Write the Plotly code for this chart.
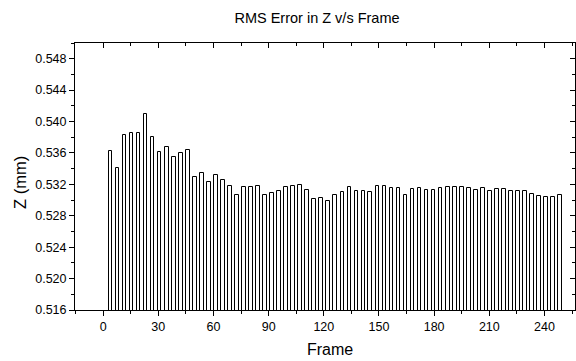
import plotly.graph_objects as go

# ---- data ----
frames = [4.0, 7.8, 11.6, 15.5, 19.3, 23.1, 26.9, 30.7, 34.6, 38.4,
          42.2, 46.0, 49.8, 53.7, 57.5, 61.3, 65.1, 68.9, 72.8, 76.6,
          80.4, 84.2, 88.0, 91.9, 95.7, 99.5, 103.3, 107.1, 111.0, 114.8,
          118.6, 122.4, 126.2, 130.1, 133.9, 137.7, 141.5, 145.3, 149.2, 153.0,
          156.8, 160.6, 164.4, 168.3, 172.1, 175.9, 179.7, 183.5, 187.4, 191.2,
          195.0, 198.8, 202.6, 206.5, 210.3, 214.1, 217.9, 221.7, 225.6, 229.4,
          233.2, 237.0, 240.8, 244.7, 248.5]

rms_z = [0.5362, 0.5341, 0.5383, 0.5385, 0.5385, 0.5410, 0.5380, 0.5361, 0.5367, 0.5355,
         0.5360, 0.5364, 0.5330, 0.5335, 0.5323, 0.5332, 0.5326, 0.5318, 0.5307, 0.5317,
         0.5316, 0.5318, 0.5306, 0.5309, 0.5311, 0.5316, 0.5318, 0.5319, 0.5313, 0.5301,
         0.5303, 0.5299, 0.5307, 0.5310, 0.5316, 0.5312, 0.5312, 0.5310, 0.5318, 0.5318,
         0.5315, 0.5315, 0.5307, 0.5314, 0.5315, 0.5313, 0.5313, 0.5315, 0.5316, 0.5317,
         0.5316, 0.5315, 0.5313, 0.5315, 0.5312, 0.5314, 0.5314, 0.5312, 0.5312, 0.5312,
         0.5308, 0.5305, 0.5304, 0.5304, 0.5307]

x_ticks = [0, 30, 60, 90, 120, 150, 180, 210, 240]
x_minor = [-15, 15, 45, 75, 105, 135, 165, 195, 225, 255]
y_ticks = [0.516, 0.520, 0.524, 0.528, 0.532, 0.536, 0.540, 0.544, 0.548]
y_minor = [0.518, 0.522, 0.526, 0.530, 0.534, 0.538, 0.542, 0.546]

title_text = "RMS Error in Z v/s Frame"
x_title = "Frame"
y_title = "Z (mm)"

x_range = [-15.3, 256.6]
y_range = [0.516, 0.550]

FONT = "Liberation Sans, Arial, sans-serif"

fig = go.Figure()
fig.add_trace(go.Bar(
    x=frames, y=rms_z, width=2.0,
    marker=dict(color="white", line=dict(color="black", width=1)),
    showlegend=False, hoverinfo="skip",
))
# empty helper traces so the mirrored (inward) tick axes are drawn
fig.add_trace(go.Scatter(x=[], y=[], xaxis="x2", yaxis="y", showlegend=False))
fig.add_trace(go.Scatter(x=[], y=[], xaxis="x", yaxis="y2", showlegend=False))

axis_font = dict(family=FONT, size=12.5, color="black")

fig.update_layout(
    width=576, height=361,
    margin=dict(l=75, r=1, t=43, b=51),
    paper_bgcolor="white", plot_bgcolor="white",
    font=dict(family=FONT, color="black"),
    bargap=0,
    xaxis=dict(
        range=x_range, tickmode="array", tickvals=x_ticks,
        ticktext=[str(v) for v in x_ticks],
        ticks="outside", ticklen=5, tickwidth=1, tickcolor="black",
        minor=dict(tickmode="array", tickvals=x_minor,
                   ticks="outside", ticklen=3, tickcolor="black", tickwidth=1),
        showline=True, linecolor="black", linewidth=1, mirror=True,
        showgrid=False, zeroline=False, tickfont=axis_font,
    ),
    xaxis2=dict(
        range=x_range, overlaying="x", side="top", anchor="y",
        tickmode="array", tickvals=x_ticks, showticklabels=False,
        ticks="inside", ticklen=5, tickwidth=1, tickcolor="black",
        minor=dict(tickmode="array", tickvals=x_minor[1:],
                   ticks="inside", ticklen=3, tickcolor="black", tickwidth=1),
        showline=False, showgrid=False, zeroline=False,
    ),
    yaxis=dict(
        range=y_range, tickmode="array", tickvals=y_ticks,
        ticktext=["%.3f" % v for v in y_ticks],
        ticks="outside", ticklen=5, tickwidth=1, tickcolor="black",
        minor=dict(tickmode="array", tickvals=y_minor + [0.550],
                   ticks="outside", ticklen=3, tickcolor="black", tickwidth=1),
        showline=True, linecolor="black", linewidth=1, mirror=True,
        showgrid=False, zeroline=False, tickfont=axis_font,
    ),
    yaxis2=dict(
        range=y_range, overlaying="y", side="right", anchor="x",
        tickmode="array", tickvals=y_ticks, showticklabels=False,
        ticks="inside", ticklen=5, tickwidth=1, tickcolor="black",
        minor=dict(tickmode="array", tickvals=y_minor,
                   ticks="inside", ticklen=3, tickcolor="black", tickwidth=1),
        showline=False, showgrid=False, zeroline=False,
    ),
    title=dict(text=title_text, x=317 / 576, xref="container",
               xanchor="center", y=1 - 18 / 361, yanchor="middle",
               font=dict(family=FONT, size=14.5, color="black")),
    annotations=[
        dict(text=x_title, xref="paper", yref="paper",
             x=(330 - 75) / 500, y=-(349 - 310) / 267, xanchor="center", yanchor="middle",
             showarrow=False, font=dict(family=FONT, size=16, color="black")),
        dict(text=y_title, xref="paper", yref="paper",
             x=-(75 - 20) / 500, y=(310 - 183) / 267, xanchor="center", yanchor="middle",
             textangle=-90, showarrow=False,
             font=dict(family=FONT, size=16.5, color="black")),
    ],
)

fig.write_html("out.html")
